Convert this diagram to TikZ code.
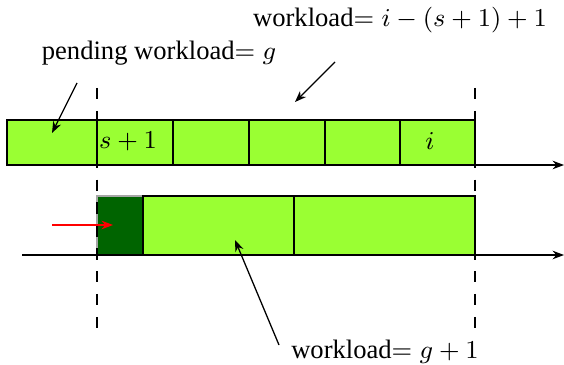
\documentclass[tikz,border=0pt]{standalone}
\usepackage{fontspec}
\setmainfont{Liberation Serif}
\usetikzlibrary{arrows.meta}
\definecolor{lime}{HTML}{9AFF33}
\definecolor{deepgreen}{HTML}{006400}
\tikzset{
  cell/.style={draw=black, fill=lime, line width=0.5pt},
  axis/.style={-{Stealth[length=4pt,width=3pt]}, line width=0.45pt},
  guide/.style={dash pattern=on 4pt off 4pt, line width=0.45pt},
  pointer/.style={-{Stealth[length=4pt,width=3pt]}, line width=0.45pt},
  lbl/.style={inner sep=0pt, font=\fontsize{9.3}{11}\selectfont}
}
\begin{document}
\begin{tikzpicture}[x=0.3497pt, y=-0.3497pt]
\useasboundingbox (0,0) rectangle (564,365);

% upper row of cells
\draw[cell] (7,120) rectangle (97,165);
\draw[cell] (97,120) rectangle (173,165);
\draw[cell] (173,120) rectangle (249,165);
\draw[cell] (249,120) rectangle (325,165);
\draw[cell] (325,120) rectangle (400,165);
\draw[cell] (400,120) rectangle (475,165);
\node[lbl] (sp) at (128,141) {$s+1$};
\node[lbl] (ii) at (430,141) {$i$};

% lower row
\draw[draw=black!35, fill=deepgreen, line width=0.4pt] (97,196) rectangle (143,255);
\draw[cell] (143,196) rectangle (294,255);
\draw[cell] (294,196) rectangle (475,255);

% time axes
\coordinate (a1s) at (22,165);
\coordinate (a1e) at (564,165);
\coordinate (a2s) at (22,255);
\coordinate (a2e) at (564,255);
\draw[axis] (a1s) -- (a1e);
\draw[axis] (a2s) -- (a2e);

% dashed guides
\coordinate (g1t) at (97,88);
\coordinate (g1b) at (97,332);
\coordinate (g2t) at (475,88);
\coordinate (g2b) at (475,332);
\draw[guide] (g1t) -- (g1b);
\draw[guide] (g2t) -- (g2b);

% incoming pending work
\coordinate (rs) at (52,225);
\coordinate (re) at (113,225);
\draw[pointer, red] (rs) -- (re);

% labels and their pointers
\node[lbl] (pend) at (159,53) {pending workload$=g$};
\node[lbl] (wl) at (400,20) {workload$=i-(s+1)+1$};
\node[lbl] (wg) at (385,352) {workload$=g+1$};
\coordinate (ps1) at (77,83);
\coordinate (ps2) at (335,62);
\coordinate (ps3) at (279,345);
\coordinate (pt1) at (52,133);
\coordinate (pt2) at (295,102);
\coordinate (pt3) at (235,240);
\draw[pointer] (ps1) -- (pt1);
\draw[pointer] (ps2) -- (pt2);
\draw[pointer] (ps3) -- (pt3);
\end{tikzpicture}
\end{document}
